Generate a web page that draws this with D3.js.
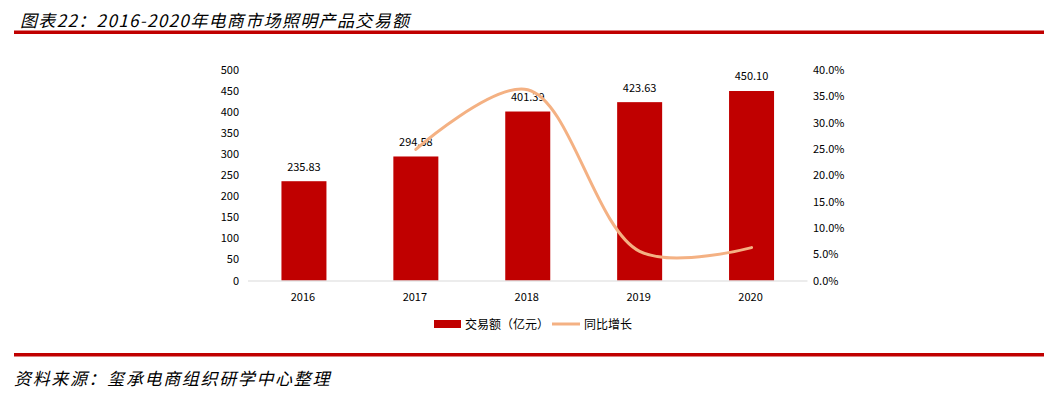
<!DOCTYPE html>
<html><head><meta charset="utf-8">
<script src="https://cdn.jsdelivr.net/npm/d3@7"></script>
<style>
html,body{margin:0;padding:0;background:#fff;}
svg{display:block;}
</style></head>
<body>
<script>
const years = ["2016","2017","2018","2019","2020"];
const amounts = [235.83, 294.58, 401.39, 423.63, 450.10];
const growth = [null, 0.2491, 0.3626, 0.0554, 0.0625];
const leftTicks = [0,50,100,150,200,250,300,350,400,450,500];
const rightTicks = [0,0.05,0.10,0.15,0.20,0.25,0.30,0.35,0.40];
const titleText = "图表22：2016-2020年电商市场照明产品交易额";
const sourceText = "资料来源：玺承电商组织研学中心整理";
const legendLabels = ["交易额（亿元）","同比增长"];

(function(){
const W = 1058, H = 397;
const red = "#C00000", orange = "#F4B183";
const tickFont = "'Noto Sans CJK SC', 'DejaVu Sans', sans-serif";
const titleFont = "'Noto Sans CJK SC', sans-serif";

const svg = d3.select("body").append("svg").attr("width", W).attr("height", H);

// title
svg.append("text").attr("x", 20).attr("y", 26.5)
  .attr("font-family", titleFont).attr("font-size", 17).attr("font-style", "italic")
  .attr("letter-spacing", 1.35).attr("fill", "#000").text(titleText);
svg.append("rect").attr("x", 14).attr("y", 30.5).attr("width", 1030).attr("height", 3.5).attr("fill", red);

// plot
const pLeft = 248, pRight = 807.5, pTop = 70, pBottom = 280.5;
const xp = d3.scalePoint().domain(years).range([pLeft, pRight]).padding(0.5);
const y = d3.scaleLinear().domain([0, 500]).range([pBottom, pTop]);
const y2 = d3.scaleLinear().domain([0, 0.4]).range([pBottom, pTop]);

// bars
svg.append("g").selectAll("rect").data(years).join("rect")
  .attr("x", (d) => xp(d) - 22.5).attr("width", 45)
  .attr("y", (d, i) => y(amounts[i])).attr("height", (d, i) => pBottom - y(amounts[i]))
  .attr("fill", red);

// x axis line
svg.append("line").attr("x1", pLeft).attr("x2", pRight).attr("y1", pBottom + 0.5).attr("y2", pBottom + 0.5)
  .attr("stroke", "#d9d9d9").attr("stroke-width", 1);

// left axis
const la = d3.axisLeft(y).tickValues(leftTicks).tickSize(0).tickPadding(0).tickFormat(d3.format("d"));
const lg = svg.append("g").attr("transform", `translate(239,0)`).call(la);
lg.select(".domain").remove();
lg.selectAll("text").attr("font-family", tickFont).attr("font-size", 11).attr("fill", "#000");

// right axis
const ra = d3.axisRight(y2).tickValues(rightTicks).tickSize(0).tickPadding(0).tickFormat(d3.format(".1%"));
const rg = svg.append("g").attr("transform", `translate(813,0)`).call(ra);
rg.select(".domain").remove();
rg.selectAll("text").attr("font-family", tickFont).attr("font-size", 11).attr("fill", "#000");

// bottom axis labels
const ba = d3.axisBottom(xp).tickSize(0).tickPadding(0);
const bg = svg.append("g").attr("transform", `translate(-1.5,${pBottom + 13})`).call(ba);
bg.select(".domain").remove();
bg.selectAll("text").attr("font-family", tickFont).attr("font-size", 11).attr("fill", "#000");

// data labels
svg.append("g").selectAll("text").data(years).join("text")
  .attr("x", (d) => xp(d)).attr("y", (d, i) => y(amounts[i]) - 14.5)
  .attr("dy", "0.35em").attr("text-anchor", "middle")
  .attr("font-family", tickFont).attr("font-size", 11).attr("fill", "#000")
  .text((d, i) => amounts[i].toFixed(2));

// growth line
const pts = years.map((d, i) => [xp(d), growth[i]]).filter((p) => p[1] !== null);
const line = d3.line().x((p) => p[0]).y((p) => y2(p[1])).curve(d3.curveCatmullRom.alpha(0.5));
svg.append("path").attr("d", line(pts)).attr("fill", "none")
  .attr("stroke", orange).attr("stroke-width", 3).attr("stroke-linecap", "round");

// legend
const lgd = svg.append("g");
lgd.append("rect").attr("x", 434).attr("y", 320).attr("width", 27).attr("height", 8).attr("fill", red);
lgd.append("text").attr("x", 465).attr("y", 324.5).attr("dy", "0.35em")
  .attr("font-family", tickFont).attr("font-size", 12).attr("fill", "#000").text(legendLabels[0]);
lgd.append("line").attr("x1", 552).attr("x2", 580).attr("y1", 324).attr("y2", 324)
  .attr("stroke", orange).attr("stroke-width", 3);
lgd.append("text").attr("x", 584).attr("y", 324.5).attr("dy", "0.35em")
  .attr("font-family", tickFont).attr("font-size", 12).attr("fill", "#000").text(legendLabels[1]);

// footer
svg.append("rect").attr("x", 14).attr("y", 353).attr("width", 1030).attr("height", 3.5).attr("fill", red);
svg.append("text").attr("x", 14).attr("y", 385)
  .attr("font-family", titleFont).attr("font-size", 17).attr("font-style", "italic")
  .attr("letter-spacing", 1.65).attr("fill", "#000").text(sourceText);
})();
</script>
</body></html>
